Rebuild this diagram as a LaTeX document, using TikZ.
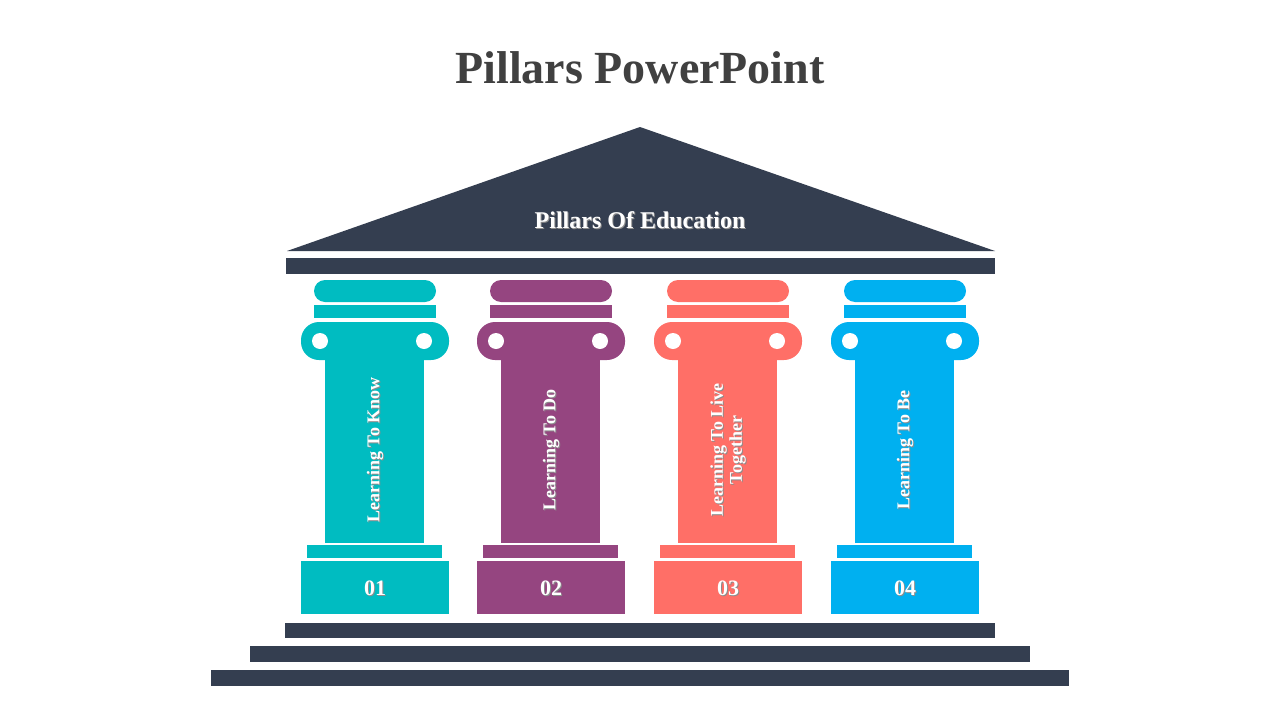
\documentclass[tikz,border=0pt]{standalone}
\usepackage{fontspec}
\setmainfont{Liberation Serif}
\begin{document}
\begin{tikzpicture}[x=1pt,y=-1pt,
  dk/.style={fill=dkc,draw=none},
  lbl/.style={text=white,font=\bfseries\fontsize{18}{19}\selectfont,align=center},
  shadowtxt/.style={text=black!45,font=\bfseries\fontsize{18}{19}\selectfont,align=center}]
\definecolor{dkc}{HTML}{343E50}
\definecolor{pA}{HTML}{00BCC1}
\definecolor{pB}{HTML}{954580}
\definecolor{pC}{HTML}{FF6F67}
\definecolor{pD}{HTML}{00B0F0}
\useasboundingbox (0,0) rectangle (1280,720);
\node[text=black!75,font=\bfseries\fontsize{46}{50}\selectfont] (title) at (640,68) {Pillars PowerPoint};
\fill[dkc] (287,251) -- (640,127) -- (995,251) -- cycle;
\node[shadowtxt,font=\bfseries\fontsize{24}{26}\selectfont] at (641,221) {Pillars Of Education};
\node[lbl,font=\bfseries\fontsize{24}{26}\selectfont] (roof) at (640,220) {Pillars Of Education};
\fill[dkc] (286,258) rectangle (995,274);
\fill[dkc] (285,623) rectangle (995,638);
\fill[dkc] (250,646) rectangle (1030,662);
\fill[dkc] (211,670) rectangle (1069,686);
\foreach \cx/\col/\num/\txt in {375/pA/01/{Learning To Know},551/pB/02/{Learning To Do},728/pC/03/{Learning To Live\\Together},905/pD/04/{Learning To Be}}{
  \fill[\col,rounded corners=11pt] (\cx-61,280) rectangle (\cx+61,302);
  \fill[\col] (\cx-61,305) rectangle (\cx+61,318);
  \fill[\col,rounded corners=18pt] (\cx-74,322) rectangle (\cx+74,360);
  \fill[white] (\cx-55,341) circle (8);
  \fill[white] (\cx+49,341) circle (8);
  \fill[\col] (\cx-50,358) rectangle (\cx+49,543);
  \fill[\col] (\cx-68,545) rectangle (\cx+67,558);
  \fill[\col] (\cx-74,561) rectangle (\cx+74,614);
  \node[shadowtxt,rotate=90] at (\cx+1,451) {\txt};
  \node[lbl,rotate=90] at (\cx,450) {\txt};
  \node[shadowtxt,font=\bfseries\fontsize{22}{24}\selectfont] at (\cx+1,589) {\num};
  \node[lbl,font=\bfseries\fontsize{22}{24}\selectfont] at (\cx,588) {\num};
}
\end{tikzpicture}
\end{document}
